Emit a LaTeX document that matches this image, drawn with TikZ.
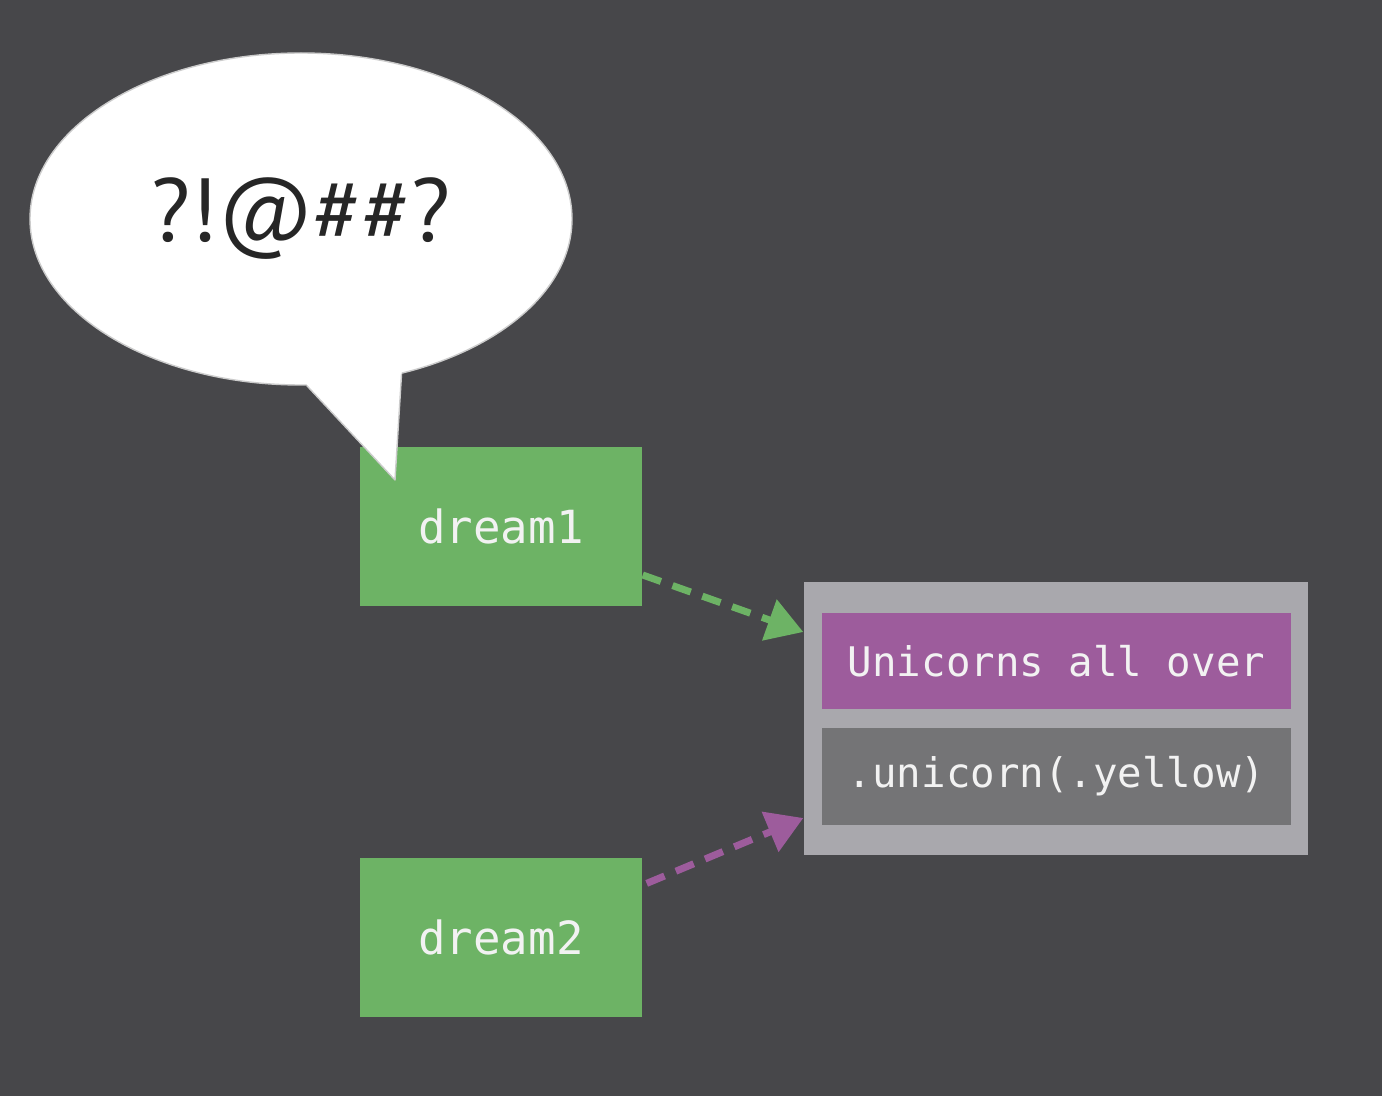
\documentclass[tikz,border=0pt]{standalone}
\usepackage{fontspec}
\setmainfont{PT Sans}
\setmonofont{DejaVu Sans Mono}
\usetikzlibrary{positioning,shapes.geometric,arrows.meta}
\definecolor{bgdark}{HTML}{47474A}
\definecolor{dreamgreen}{HTML}{6DB365}
\definecolor{unipurple}{HTML}{9D5C9C}
\definecolor{framegray}{HTML}{A9A8AD}
\definecolor{modgray}{HTML}{747476}
\definecolor{codewhite}{HTML}{F2F2F2}
\tikzset{
  dreambox/.style={fill=dreamgreen,minimum width=2.82cm,minimum height=1.59cm,inner sep=0pt,
    text=codewhite,font=\ttfamily\fontsize{13}{13}\selectfont},
  rowbox/.style={minimum width=4.69cm,minimum height=0.965cm,inner sep=0pt,
    text=codewhite,font=\ttfamily\fontsize{11.6}{12}\selectfont},
  link/.style={->,line width=2pt,dash pattern=on 5.5pt off 3.5pt}
}
\begin{document}
\begin{tikzpicture}[>={Triangle[length=0.36cm,width=0.42cm]},line join=round]
			% Khung nền
			\fill [bgdark] (0,0) rectangle (13.82,10.96);
			\useasboundingbox (0,0) rectangle (13.82,10.96);
			% Các hộp
			\node [dreambox] (dream1) at (5.01,5.695) {dream1};
			\node [dreambox,below=2.51cm of dream1] (dream2) {dream2};
			\node [fill=framegray,minimum width=5.04cm,minimum height=2.73cm,inner sep=0pt] (cache) at (10.56,3.775) {};
			\node [rowbox,fill=unipurple] (title) at (10.565,4.35) {Unicorns all over};
			\node [rowbox,fill=modgray] (modifier) at (10.565,3.195) {.unicorn(.yellow)};
			% Lời thoại
			\node [ellipse,fill=white,draw=gray!40,line width=0.4pt,minimum width=5.42cm,minimum height=3.32cm,inner sep=0pt,
				text=black!85,font=\fontsize{25.5}{26}\selectfont] (bubble) at (3.01,8.77) {?!@\#\#?};
			\coordinate (tip) at (3.95,6.16);
			\fill [white] (bubble.-88.6) -- (tip) -- (bubble.-57.8) -- ([yshift=0.1cm]bubble.-57.8) -- ([yshift=0.1cm]bubble.-88.6) -- cycle;
			\draw [gray!40,line width=0.4pt] (bubble.-88.6) -- (tip) -- (bubble.-57.8);
			% Mũi tên
			\draw [link,dreamgreen] ([yshift=-0.485cm]dream1.east) -- ([yshift=0.865cm]cache.west);
			\draw [link,unipurple] ([yshift=0.545cm,xshift=0.04cm]dream2.east) -- ([yshift=-0.995cm]cache.west);
		\end{tikzpicture}
\end{document}
